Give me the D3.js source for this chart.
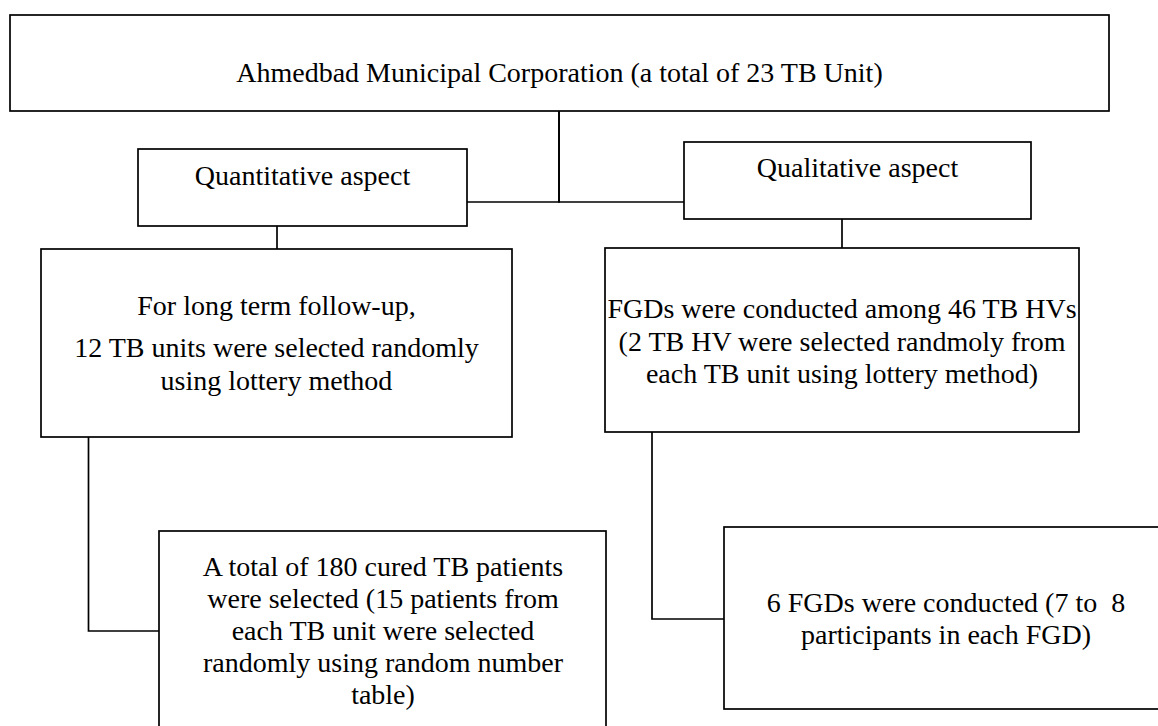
<!DOCTYPE html>
<html>
<head>
<meta charset="utf-8">
<script src="https://cdn.jsdelivr.net/npm/d3@7"></script>
<style>
  html, body { margin: 0; padding: 0; background: #fff; overflow: hidden; }
  svg text { white-space: pre; }
</style>
</head>
<body>
<div id="chart"></div>
<script>
// flowchart content
const boxIds = ["amc", "quant", "qual", "quantDetail", "qualDetail", "patients", "fgds"];
const boxText = [
  ["Ahmedbad Municipal Corporation (a total of 23 TB Unit)"],
  ["Quantitative aspect"],
  ["Qualitative aspect"],
  ["For long term follow-up,", "12 TB units were selected randomly", "using lottery method"],
  ["FGDs were conducted among 46 TB HVs", "(2 TB HV were selected randmoly from", "each TB unit using lottery method)"],
  ["A total of 180 cured TB patients", "were selected (15 patients from", "each TB unit were selected", "randomly using random number", "table)"],
  ["6 FGDs were conducted (7 to  8", "participants in each FGD)"]
];
const links = [
  ["amc", "quant"], ["amc", "qual"],
  ["quant", "quantDetail"], ["qual", "qualDetail"],
  ["quantDetail", "patients"], ["qualDetail", "fgds"]
];

// layout in reference units (1158 x 726)
const layout = {
  amc:         { x0: 10,  x1: 1109, y0: 15,  y1: 111, lines: [82] },
  quant:       { x0: 138, x1: 467,  y0: 149, y1: 226, lines: [185] },
  qual:        { x0: 684, x1: 1031, y0: 142, y1: 219, lines: [177] },
  quantDetail: { x0: 41,  x1: 512,  y0: 249, y1: 437, lines: [315, 357, 390] },
  qualDetail:  { x0: 605, x1: 1079, y0: 248, y1: 432, lines: [318, 351, 383] },
  patients:    { x0: 159, x1: 606,  y0: 531, y1: 745, lines: [576, 608, 640, 672, 704], cx: 383 },
  fgds:        { x0: 724, x1: 1170, y0: 527, y1: 709, lines: [612, 644], cx: 946 }
};
// how each link is routed: trunk x for elbows, bus y for the horizontal leg
const routing = {
  "amc-quant": { kind: "bus", trunk: 559, bus: 202 },
  "amc-qual": { kind: "bus", trunk: 559, bus: 202 },
  "quant-quantDetail": { kind: "drop", trunk: 277 },
  "qual-qualDetail": { kind: "drop", trunk: 842 },
  "quantDetail-patients": { kind: "elbow", trunk: 88.5, bus: 631 },
  "qualDetail-fgds": { kind: "elbow", trunk: 652, bus: 619 }
};

const width = 1158, height = 726;
const x = d3.scaleLinear().domain([0, 1158]).range([0, width]);
const y = d3.scaleLinear().domain([0, 726]).range([0, height]);

const svg = d3.select("#chart").append("svg")
  .attr("width", width)
  .attr("height", height);

const nodes = boxIds.map((id, i) => ({ id, text: boxText[i], ...layout[id] }));
const byId = new Map(nodes.map(d => [d.id, d]));

const line = d3.line().x(d => x(d[0])).y(d => y(d[1]));

function route(src, dst) {
  const r = routing[src.id + "-" + dst.id];
  if (r.kind === "bus") {
    // down from the parent, then along to the side of the child
    const end = dst.x1 < r.trunk ? dst.x1 : dst.x0;
    return [[r.trunk, src.y1], [r.trunk, r.bus], [end, r.bus]];
  }
  if (r.kind === "drop") return [[r.trunk, src.y1], [r.trunk, dst.y0]];
  return [[r.trunk, src.y1], [r.trunk, r.bus], [dst.x0, r.bus]];
}

svg.append("g").attr("class", "links")
  .selectAll("path")
  .data(links)
  .join("path")
  .attr("d", d => line(route(byId.get(d[0]), byId.get(d[1]))))
  .attr("fill", "none")
  .attr("stroke", "#000")
  .attr("stroke-width", 1.7);

const box = svg.append("g").attr("class", "boxes")
  .selectAll("g")
  .data(nodes)
  .join("g");

box.append("rect")
  .attr("x", d => x(d.x0))
  .attr("y", d => y(d.y0))
  .attr("width", d => x(d.x1) - x(d.x0))
  .attr("height", d => y(d.y1) - y(d.y0))
  .attr("fill", "#fff")
  .attr("stroke", "#000")
  .attr("stroke-width", 1.7);

box.each(function(d) {
  const cx = d.cx != null ? d.cx : (d.x0 + d.x1) / 2;
  d3.select(this).selectAll("text")
    .data(d.text.map((t, i) => ({ t, yy: d.lines[i] })))
    .join("text")
    .attr("x", x(cx))
    .attr("y", t => y(t.yy))
    .attr("text-anchor", "middle")
    .attr("font-family", "'Liberation Serif', 'Times New Roman', Times, serif")
    .attr("font-size", 28)
    .attr("fill", "#000")
    .text(t => t.t);
});
</script>
</body>
</html>
